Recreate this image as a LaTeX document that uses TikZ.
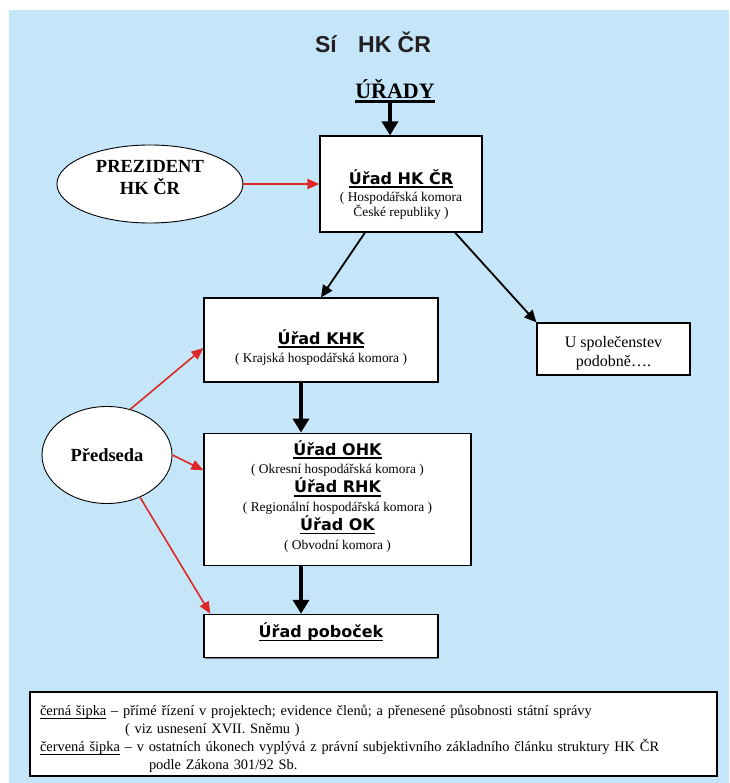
\documentclass[tikz,border=0pt]{standalone}
\usepackage{fontspec}
\setmainfont{Liberation Serif}
\newfontfamily\titlefont{Liberation Sans}
\newfontfamily\uradfont{DejaVu Sans}
\usetikzlibrary{positioning,shapes.geometric,arrows.meta,shadows}

\definecolor{pozadi}{RGB}{197,229,248}
\definecolor{cervena}{RGB}{221,40,38}
\definecolor{titulni}{RGB}{35,31,32}

% podtrzeni: #1 tloustka, #2 odstup pod uckarou, #3 text
\newcommand{\podtrh}[3]{{\setbox0=\hbox{#3}\leavevmode\rlap{\vrule height -#2 depth \dimexpr#2+#1\relax width \wd0}\box0}}
\newcommand{\urad}[1]{{\fontsize{16}{18}\uradfont\bfseries\podtrh{1.6pt}{2.2pt}{#1}}}
\newcommand{\pozn}[1]{{\fontsize{13.4}{16}\selectfont #1}}

\tikzset{
 box/.style
  = {rectangle, draw, fill=white, line width=1.2pt, inner sep=0pt, align=center,
     font=\fontsize{13.4}{17}\selectfont,
     drop shadow={shadow xshift=1.2pt, shadow yshift=-1.2pt, fill=black!55, opacity=1}},
 oval/.style
  = {ellipse, draw, fill=white, line width=0.9pt, inner sep=0pt, align=center,
     font=\fontsize{18.5}{22}\selectfont\bfseries},
 l/.style
  = {draw, -{Triangle[length=12pt,width=11pt]}, line width=1.8pt},
 lb/.style
  = {draw, -{Triangle[length=14pt,width=16pt]}, line width=3.5pt},
 lr/.style
  = {draw, -{Triangle[length=12pt,width=10pt]}, line width=1.6pt, cervena}
}

\begin{document}
\begin{tikzpicture}[x=1pt, y=-1pt]
    \fill[pozadi] (9,10) rectangle (729,783);
    \useasboundingbox (0,0) rectangle (729,783);

    \node [text=titulni, font=\titlefont\bfseries\fontsize{23}{27}\selectfont] (titulek) at (373,42) {Sí\hspace{15pt} HK ČR};
    \node [font=\fontsize{22}{26}\selectfont\bfseries, inner sep=0pt] (urady) at (395,91) {\podtrh{2.5pt}{2pt}{ÚŘADY}};
    \node [box, minimum width=162pt, minimum height=96pt] (hkcr) at (401,184) {\rule{0pt}{35pt}\urad{Úřad HK ČR}\\ \pozn{( Hospodářská komora}\\[-2pt] \pozn{České republiky )}};
    \node [oval, minimum width=186pt, minimum height=78pt, left=76pt of hkcr] (prez) {PREZIDENT\\HK ČR\rule[-14pt]{0pt}{0pt}};
    \node [box, minimum width=234pt, minimum height=84pt, font=\fontsize{13.4}{18}\selectfont] (khk) at (321,340) {\rule{0pt}{29pt}\urad{Úřad KHK}\\ \pozn{( Krajská hospodářská komora )}};
    \node [box, minimum width=153pt, minimum height=52pt, font=\fontsize{16}{19}\selectfont] (usp) at (613.5,349) {\rule{0pt}{19pt}U společenstev\\ podobně….};
    \node [box, minimum width=267pt, minimum height=132pt, font=\fontsize{13.4}{18.8}\selectfont, below=50pt of khk.south west, anchor=north west] (ohk) {\urad{Úřad OHK}\\ \pozn{( Okresní hospodářská komora )}\\ \urad{Úřad RHK}\\ \pozn{( Regionální hospodářská komora )}\\ \urad{Úřad OK}\\ \pozn{( Obvodní komora )}\rule[-9pt]{0pt}{0pt}};
    \node [box, minimum width=234pt, minimum height=43pt, below=48pt of ohk.south west, anchor=north west] (pob) {\urad{Úřad poboček}\rule[-12pt]{0pt}{0pt}};
    \node [oval, minimum width=130pt, minimum height=97pt] (pred) at (107,455) {Předseda};
    \node [box, text width=667pt, inner xsep=10pt, minimum height=84pt, align=left, font=\fontsize{14.4}{18}\selectfont] (legenda) at (373.5,734) {\rule{0pt}{21pt}\podtrh{0.8pt}{2pt}{černá šipka} – přímé řízení v projektech; evidence členů; a přenesené působnosti státní správy\\ \hspace*{85pt}( viz usnesení XVII. Sněmu )\\ \podtrh{0.8pt}{2pt}{červená šipka} – v ostatních úkonech vyplývá z právní subjektivního základního článku struktury HK ČR\\ \hspace*{109pt}podle Zákona 301/92 Sb.};

    \path [lb] ([xshift=-5pt]urady.south) -- ([xshift=-11pt]hkcr.north);
    \path [lr] (prez.east) -- (prez.east -| hkcr.west);
    \path [l] ([xshift=-36pt]hkcr.south) -- (khk.north);
    \path [l] ([xshift=54pt]hkcr.south) -- (usp.north west);
    \path [lb] ([xshift=-20pt]khk.south) -- ([xshift=-36.5pt]ohk.north);
    \path [lb] ([xshift=-36.5pt]ohk.south) -- ([xshift=-20pt]pob.north);
    \path [lr] (pred.63) -- ([yshift=-8pt]khk.west);
    \path [lr] (pred.east) -- ([yshift=29pt]ohk.west);
    \path [lr] (pred.-52) -- ([xshift=7pt]pob.north west);

\end{tikzpicture}
\end{document}
